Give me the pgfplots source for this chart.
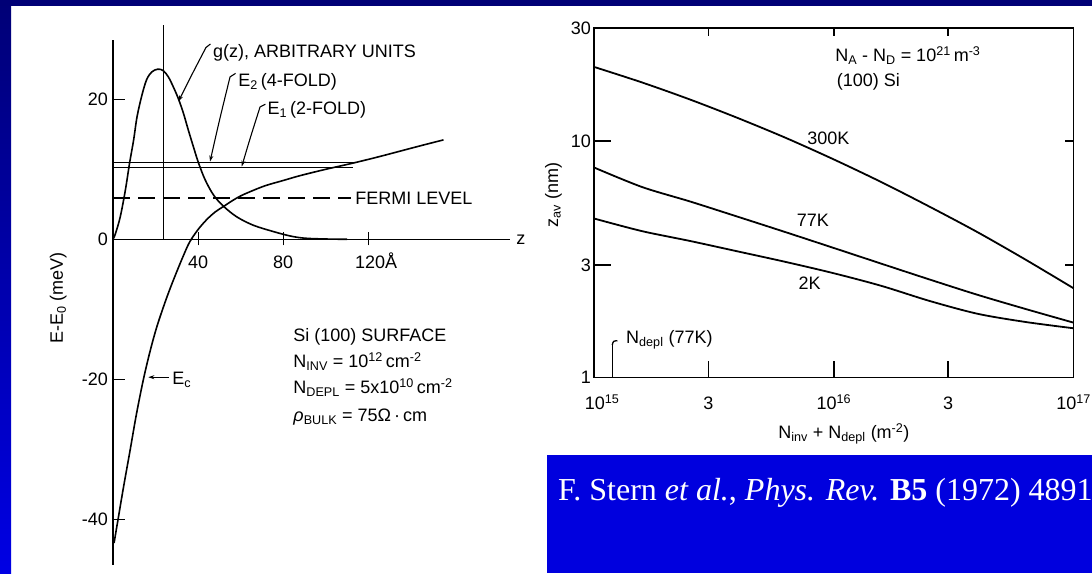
\documentclass[border=0pt]{standalone}
\usepackage{pgfplots}
\pgfplotsset{compat=1.18}
\usepackage{fontspec}
\setmainfont{Liberation Sans}
\newfontfamily\capfont{Liberation Serif}
\usetikzlibrary{arrows.meta}

\definecolor{slidenavy}{RGB}{0,0,118}
\definecolor{slideblue}{RGB}{0,0,228}
\definecolor{boxblue}{RGB}{0,0,222}

\begin{document}
\fontsize{18}{21.6}\selectfont
\begin{tikzpicture}[x=1pt,y=1pt]
% slide background
\fill[white] (0,0) rectangle (1092,573);
\shade[top color=slidenavy, bottom color=slideblue] (0,0) rectangle (11,573);
\fill[slidenavy] (0,567) rectangle (1092,573);
\fill[boxblue] (547,0) rectangle (1092,118);
\node[anchor=base west, inner sep=0pt, text=white, font=\capfont\fontsize{32}{36}\selectfont]
  at (558,72.3) {F. Stern \textit{et al.}, \textit{Phys. Rev.} \textbf{B5} (1972) 4891};

% ---------------- potential well and wave function ----------------
\begin{axis}[
  at={(113pt,8.2pt)}, anchor=south west,
  scale only axis, width=399pt, height=539.7pt,
  xmin=0, xmax=187.5, ymin=-46.5, ymax=30.6,
  hide axis, clip=false,
]
% axes
\draw[line width=1.3pt] (axis cs:0,-46.5) -- (axis cs:0,28.5);
\draw[line width=1.3pt] (axis cs:0,0) -- (axis cs:186.5,0);
\draw[line width=1.3pt] (axis cs:23.7,0) -- (axis cs:23.7,30.6);
% ticks
\draw[line width=1.2pt] (axis cs:0,20) -- ++(12pt,0pt);
\draw[line width=1.2pt] (axis cs:0,-20) -- ++(12pt,0pt);
\draw[line width=1.2pt] (axis cs:0,-40) -- ++(12pt,0pt);
\draw[line width=1.2pt] (axis cs:40,0) ++(0pt,-6pt) -- ++(0pt,13pt);
\draw[line width=1.2pt] (axis cs:80,0) ++(0pt,-6pt) -- ++(0pt,13pt);
\draw[line width=1.2pt] (axis cs:120,0) ++(0pt,-6pt) -- ++(0pt,13pt);
% tick labels
\node[anchor=east, inner sep=0pt] at (axis cs:0,20) [xshift=-5pt] {20};
\node[anchor=east, inner sep=0pt] at (axis cs:0,0) [xshift=-5pt] {0};
\node[anchor=east, inner sep=0pt] at (axis cs:0,-20) [xshift=-5pt] {-20};
\node[anchor=east, inner sep=0pt] at (axis cs:0,-40) [xshift=-5pt] {-40};
\node[anchor=base, inner sep=0pt] at (axis cs:40,-4.2) {40};
\node[anchor=base, inner sep=0pt] at (axis cs:80,-4.2) {80};
\node[anchor=base west, inner sep=0pt] at (axis cs:113.7,-4.2) {120Å};
\node[anchor=west, inner sep=0pt] at (axis cs:189.5,0) {z};
\node[anchor=base, rotate=90, inner sep=0pt] at (axis cs:-23.5,-8.4) {E-E\textsubscript{0} (meV)};

% wave function g(z)
\addplot[black, line width=1.6pt, smooth, tension=0.55] coordinates {
  (0,0) (1.1,0.76) (3.4,3.2) (5.8,7.0) (7.8,10.9) (9.7,14.2) (11.3,17.5)
  (13.6,20.6) (15.8,22.8) (18.2,23.9) (21.0,24.3) (23.6,24.1) (26.0,23.2)
  (28.3,21.8) (30.7,20.1) (33.1,18.0) (35.4,15.6) (37.8,13.2) (40.2,10.9)
  (43.3,8.5) (47.3,6.3) (52.0,4.7) (58.2,3.2) (66.0,2.0) (75.4,1.1)
  (83.3,0.47) (90,0.16) (100,0.04) (110,0)
};
% conduction band edge Ec
\addplot[black, line width=1.6pt, smooth, tension=0.55] coordinates {
  (0.5,-43.4) (2.6,-39.6) (5,-35.3) (8,-30.2) (11,-25.0) (14.3,-20.0)
  (17.5,-15.9) (20.6,-12.5) (24,-9.4) (27,-6.9) (30,-4.6) (33,-2.4)
  (36,-0.4) (40,1.4) (44,2.8) (48,3.9) (52,4.7) (56,5.5) (60,6.2)
  (66,7.0) (72,7.7) (80,8.4) (88,9.1) (100,10.0) (113,10.9) (125,11.8)
  (135,12.6) (145,13.4) (155.3,14.2)
};
% subband levels and Fermi level
\addplot[black, line width=1.1pt] coordinates {(0,10.94) (114,10.94)};
\addplot[black, line width=1.1pt] coordinates {(0,10.26) (113,10.26)};
\addplot[black, line width=1.4pt, dash pattern=on 17pt off 8pt] coordinates {(0,5.9) (112,5.9)};

% annotations
\draw[line width=1.1pt, {Stealth[length=6pt,width=4pt]}-] (axis cs:30.8,19.7) .. controls (axis cs:37,23.5) .. (axis cs:43.7,27.4) -- (axis cs:45.8,27.9);
\node[anchor=base west, inner sep=0pt] at (axis cs:47,25.9) {g(z), ARBITRARY UNITS};
\draw[line width=1.1pt, {Stealth[length=6pt,width=4pt]}-] (axis cs:45.6,11.1) .. controls (axis cs:50,17) .. (axis cs:55,23.2) -- (axis cs:57.6,23.7);
\node[anchor=base west, inner sep=0pt] at (axis cs:58.8,21.8) {E\textsubscript{2}\,(4-FOLD)};
\draw[line width=1.1pt, {Stealth[length=6pt,width=4pt]}-] (axis cs:60.5,10.4) .. controls (axis cs:64.5,14.5) .. (axis cs:69.1,18.9) -- (axis cs:71.6,19.3);
\node[anchor=base west, inner sep=0pt] at (axis cs:72.6,17.8) {E\textsubscript{1}\,(2-FOLD)};
\node[anchor=base west, inner sep=0pt] at (axis cs:113.8,4.9) {FERMI LEVEL};
\draw[line width=1.1pt, -{Stealth[length=6pt,width=4pt]}] (axis cs:26.3,-19.7) -- (axis cs:16.6,-19.7);
\node[anchor=base west, inner sep=0pt] at (axis cs:27.8,-20.8) {E\textsubscript{c}};
\node[anchor=base west, inner sep=0pt] at (axis cs:84.7,-14.6) {Si (100) SURFACE};
\node[anchor=base west, inner sep=0pt] at (axis cs:84.7,-18.3) {N\textsubscript{INV} = 10\textsuperscript{12}\,cm\textsuperscript{-2}};
\node[anchor=base west, inner sep=0pt] at (axis cs:84.7,-22.0) {N\textsubscript{DEPL} = 5x10\textsuperscript{10}\,cm\textsuperscript{-2}};
\node[anchor=base west, inner sep=0pt] at (axis cs:84.7,-26.1) {\textit{ρ}\textsubscript{BULK} = 75Ω\,·\,cm};
\end{axis}

% ---------------- average inversion layer thickness ----------------
\begin{axis}[
  at={(594pt,195.3pt)}, anchor=south west,
  scale only axis, width=479.5pt, height=349.4pt,
  xmode=log, ymode=log,
  xmin=1e15, xmax=1e17, ymin=1, ymax=30,
  axis line style={line width=1.6pt},
  xtick={1e15,3e15,1e16,3e16,1e17},
  xticklabels={\hspace*{16pt}10\textsuperscript{15},3,10\textsuperscript{16},3,10\textsuperscript{17}},
  ytick={1,3,10,30}, yticklabels={1,3,10,30},
  xtick pos=left, ytick pos=left,
  tick align=inside, major tick length=17pt,
  tick style={line width=1.4pt, black},
  xticklabel style={anchor=base, inner sep=0pt, yshift=-32.3pt},
  yticklabel style={anchor=east, inner sep=0pt, xshift=-3pt},
  clip=false,
]
% short ticks on the top and right sides
\draw[line width=1.4pt] (rel axis cs:0.23856,1) -- ++(0pt,-8pt);
\draw[line width=1.4pt] (rel axis cs:0.5,1) -- ++(0pt,-8pt);
\draw[line width=1.4pt] (rel axis cs:0.73856,1) -- ++(0pt,-8pt);
\draw[line width=1.4pt] (rel axis cs:1,0.67699) -- ++(-9pt,0pt);
\draw[line width=1.4pt] (rel axis cs:1,0.32301) -- ++(-9pt,0pt);

% 300 K
\addplot[black, line width=1.8pt, smooth] coordinates {
  (1.0e15,20.6) (1.585e15,17.71) (2.512e15,15.0) (3.981e15,12.52)
  (6.310e15,10.32) (1.0e16,8.37) (1.585e16,6.70) (2.512e16,5.28)
  (3.981e16,4.12) (6.310e16,3.155) (1.0e17,2.388)
};
% 77 K
\addplot[black, line width=1.8pt, smooth] coordinates {
  (1.0e15,7.74) (1.585e15,6.40) (2.512e15,5.56) (3.981e15,4.79)
  (6.310e15,4.12) (1.0e16,3.535) (1.585e16,3.03) (2.512e16,2.60)
  (3.981e16,2.24) (6.310e16,1.952) (1.0e17,1.709)
};
% 2 K
\addplot[black, line width=1.8pt, smooth] coordinates {
  (1.0e15,4.71) (1.585e15,4.165) (2.512e15,3.785) (3.981e15,3.418)
  (6.310e15,3.085) (1.0e16,2.764) (1.585e16,2.442) (2.512e16,2.110)
  (3.981e16,1.863) (6.310e16,1.720) (1.0e17,1.618)
};
% depletion charge marker
\addplot[black, line width=1.3pt] coordinates {(1.191e15,1) (1.191e15,1.375)};
\draw[line width=1.3pt] (rel axis cs:0.0380,0.0936) .. controls (rel axis cs:0.0400,0.1050) .. (rel axis cs:0.0488,0.1059);
\node[anchor=base west, inner sep=0pt] at (rel axis cs:0.0667,0.0985) {N\textsubscript{depl} (77K)};

\node[anchor=base west, inner sep=0pt] at (rel axis cs:0.4442,0.6660) {300K};
\node[anchor=base west, inner sep=0pt] at (rel axis cs:0.4227,0.4313) {77K};
\node[anchor=base west, inner sep=0pt] at (rel axis cs:0.4263,0.2510) {2K};
\node[anchor=base west, inner sep=0pt] at (rel axis cs:0.5026,0.9044) {N\textsubscript{A} - N\textsubscript{D} = 10\textsuperscript{21}\,m\textsuperscript{-3}};
\node[anchor=base west, inner sep=0pt] at (rel axis cs:0.5061,0.8329) {(100) Si};
\node[anchor=base, inner sep=0pt] at (rel axis cs:0.5210,-0.1734) {N\textsubscript{inv} + N\textsubscript{depl} (m\textsuperscript{-2})};
\node[anchor=base, rotate=90, inner sep=0pt] at (rel axis cs:-0.0751,0.5229) {z\textsubscript{av} (nm)};
\end{axis}
\pgfresetboundingbox
\path[use as bounding box] (0,0) rectangle (1092,573);
\end{tikzpicture}
\end{document}
